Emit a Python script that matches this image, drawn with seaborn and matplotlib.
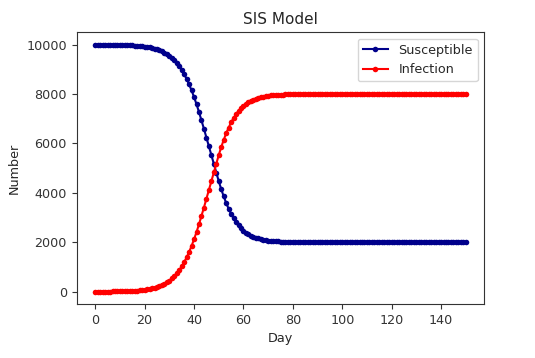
import matplotlib
matplotlib.use("Agg")
import matplotlib.pyplot as plt
import seaborn as sns
import pandas as pd

days = list(range(0, 151))

susceptible = [
    9998, 9997, 9997, 9996, 9996, 9995, 9994, 9992, 9991, 9989,
    9987, 9984, 9981, 9978, 9973, 9968, 9962, 9954, 9945, 9935,
    9922, 9907, 9888, 9867, 9841, 9811, 9774, 9731, 9680, 9620,
    9550, 9467, 9370, 9257, 9127, 8977, 8805, 8610, 8391, 8147,
    7879, 7587, 7273, 6941, 6594, 6239, 5879, 5521, 5171, 4819,
    4472, 4150, 3857, 3592, 3357, 3150, 2970, 2815, 2682, 2569,
    2474, 2394, 2327, 2271, 2224, 2185, 2153, 2126, 2104, 2085,
    2070, 2058, 2048, 2039, 2032, 2027, 2022, 2018, 2015, 2012,
    2010, 2008, 2007, 2006, 2005, 2004, 2003, 2003, 2002, 2002,
    2001, 2001, 2001, 2001, 2001, 2001, 2001, 2001, 2001, 2001,
    2000, 2000, 2000, 2000, 2000, 2000, 2000, 2000, 2000, 2000,
    2000, 2000, 2000, 2000, 2000, 2000, 2000, 2000, 2000, 2000,
    2000, 2000, 2000, 2000, 2000, 2000, 2000, 2000, 2000, 2000,
    2000, 2000, 2000, 2000, 2000, 2000, 2000, 2000, 2000, 2000,
    2000, 2000, 2000, 2000, 2000, 2000, 2000, 2000, 2000, 2000,
    2000,
]

infection = [
    2, 3, 3, 4, 4, 5, 6, 8, 9, 11,
    13, 16, 19, 22, 27, 32, 38, 46, 55, 65,
    78, 93, 112, 133, 159, 189, 226, 269, 320, 380,
    450, 533, 630, 743, 873, 1023, 1195, 1390, 1609, 1853,
    2121, 2413, 2727, 3059, 3406, 3761, 4121, 4479, 4829, 5181,
    5528, 5850, 6143, 6408, 6643, 6850, 7030, 7185, 7318, 7431,
    7526, 7606, 7673, 7729, 7776, 7815, 7847, 7874, 7896, 7915,
    7930, 7942, 7952, 7961, 7968, 7973, 7978, 7982, 7985, 7988,
    7990, 7992, 7993, 7994, 7995, 7996, 7997, 7997, 7998, 7998,
    7999, 7999, 7999, 7999, 7999, 7999, 7999, 7999, 7999, 7999,
    8000, 8000, 8000, 8000, 8000, 8000, 8000, 8000, 8000, 8000,
    8000, 8000, 8000, 8000, 8000, 8000, 8000, 8000, 8000, 8000,
    8000, 8000, 8000, 8000, 8000, 8000, 8000, 8000, 8000, 8000,
    8000, 8000, 8000, 8000, 8000, 8000, 8000, 8000, 8000, 8000,
    8000, 8000, 8000, 8000, 8000, 8000, 8000, 8000, 8000, 8000,
    8000,
]

df = pd.DataFrame({"Day": days, "Susceptible": susceptible, "Infection": infection})

plt.rcParams["font.family"] = ["DejaVu Sans"]
plt.rcParams["font.size"] = 9.2
plt.rcParams["axes.edgecolor"] = "#333333"
plt.rcParams["text.color"] = "#262626"
plt.rcParams["axes.labelcolor"] = "#262626"
plt.rcParams["xtick.color"] = "#333333"
plt.rcParams["ytick.color"] = "#333333"

fig = plt.figure(figsize=(5.35, 3.58), dpi=100)
ax = fig.add_axes([0.1434, 0.1508, 0.7618, 0.759])

sns.lineplot(data=df, x="Day", y="Susceptible", ax=ax, color="darkblue",
             marker=".", markersize=8, markeredgewidth=0, linewidth=1.5,
             label="Susceptible")
sns.lineplot(data=df, x="Day", y="Infection", ax=ax, color="red",
             marker=".", markersize=8, markeredgewidth=0, linewidth=1.5,
             label="Infection")

ax.set_title("SIS Model", fontsize=11)
ax.set_xlabel("Day")
ax.set_ylabel("Number")
ax.set_xticks([0, 20, 40, 60, 80, 100, 120, 140])
ax.set_yticks([0, 2000, 4000, 6000, 8000, 10000])
ax.set_xlim(-7.5, 157.5)
ax.set_ylim(-500, 10500)
ax.legend(loc="upper right")

fig.savefig("out.png", dpi=100)
